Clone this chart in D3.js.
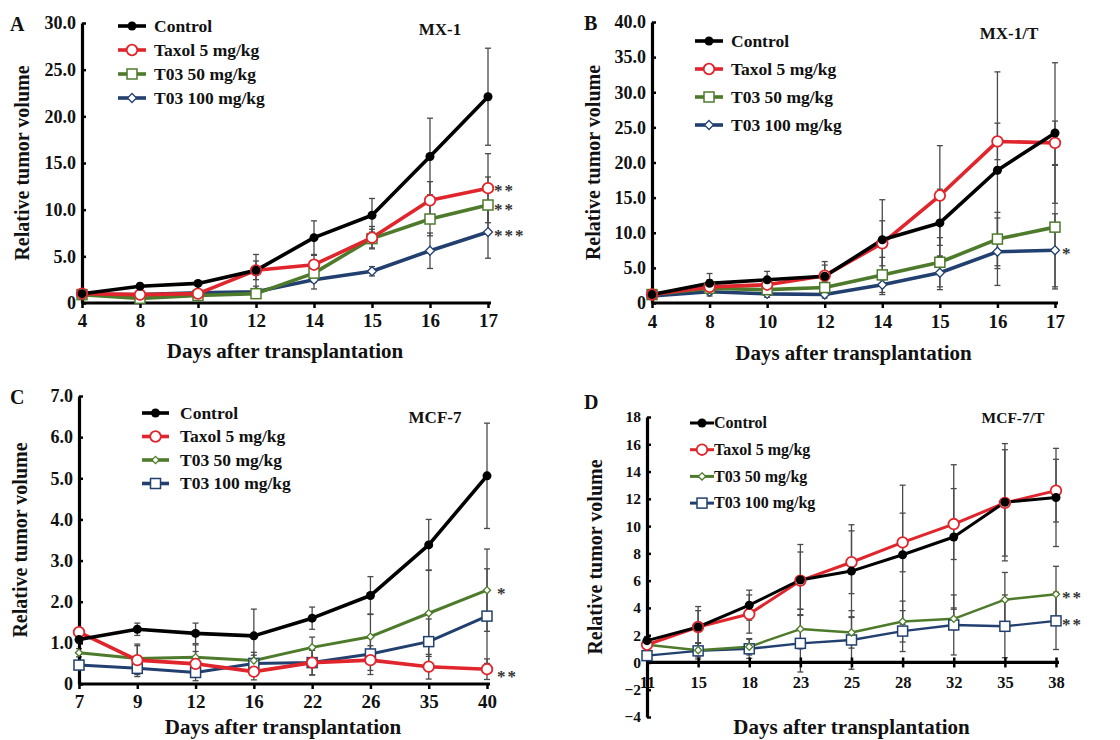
<!DOCTYPE html>
<html>
<head>
<meta charset="utf-8">
<script src="https://cdnjs.cloudflare.com/ajax/libs/d3/7.8.5/d3.min.js"></script>
<style>
  body { margin: 0; background: #fff; }
  svg { display: block; }
  text { font-family: "Liberation Serif", "Times New Roman", serif; font-weight: bold; }
</style>
</head>
<body>
<script>
// series names used in every panel
var seriesNames = ["Control", "Taxol 5 mg/kg", "T03 50 mg/kg", "T03 100 mg/kg"];

// panel A - MX-1
var daysA = ["4", "8", "10", "12", "14", "15", "16", "17"];
var controlA = [1.0, 1.8, 2.1, 3.5, 7.0, 9.4, 15.7, 22.1];
var taxolA = [1.0, 0.9, 1.0, 3.5, 4.1, 7.0, 11.0, 12.3];
var t50A = [0.9, 0.5, 0.8, 1.0, 3.2, 6.9, 9.0, 10.5];
var t100A = [0.9, 0.9, 1.1, 1.2, 2.5, 3.4, 5.6, 7.6];
var controlErrA = [0.1, 0.3, 0.3, 1.7, 1.8, 1.8, 4.1, 5.2];
var taxolErrA = [0.1, 0.2, 0.3, 1.0, 1.0, 1.2, 2.0, 3.7];
var t50ErrA = [0.1, 0.2, 0.2, 0.5, 1.0, 1.0, 1.8, 3.0];
var t100ErrA = [0.1, 0.2, 0.2, 0.3, 1.0, 0.5, 1.9, 2.8];

// panel B - MX-1/T
var daysB = ["4", "8", "10", "12", "14", "15", "16", "17"];
var controlB = [1.2, 2.8, 3.3, 3.8, 9.0, 11.4, 18.9, 24.2];
var taxolB = [1.2, 2.3, 2.6, 3.9, 8.5, 15.3, 23.0, 22.8];
var t50B = [1.2, 2.1, 1.9, 2.2, 4.0, 5.8, 9.1, 10.8];
var t100B = [1.0, 1.6, 1.3, 1.2, 2.6, 4.3, 7.3, 7.5];
var controlErrB = [0.2, 1.4, 1.2, 2.1, 5.7, 4.8, 14.0, 10.0];
var taxolErrB = [0.2, 1.0, 1.0, 1.5, 3.2, 7.1, 2.6, 3.1];
var t50ErrB = [0.2, 0.8, 0.7, 0.8, 2.5, 3.5, 3.8, 8.8];
var t100ErrB = [0.2, 0.6, 0.5, 0.5, 1.4, 2.4, 4.8, 5.2];

// panel C - MCF-7
var daysC = ["7", "9", "12", "16", "22", "26", "35", "40"];
var controlC = [1.08, 1.33, 1.23, 1.17, 1.6, 2.15, 3.38, 5.06];
var taxolC = [1.26, 0.58, 0.49, 0.3, 0.52, 0.58, 0.42, 0.36];
var t50C = [0.76, 0.62, 0.65, 0.57, 0.89, 1.15, 1.72, 2.28];
var t100C = [0.46, 0.38, 0.28, 0.5, 0.52, 0.73, 1.03, 1.65];
var controlErrC = [0.08, 0.15, 0.25, 0.65, 0.27, 0.46, 0.62, 1.28];
var taxolErrC = [0.1, 0.35, 0.3, 0.2, 0.3, 0.35, 0.3, 0.25];
var t50ErrC = [0.1, 0.35, 0.3, 0.2, 0.25, 0.55, 1.05, 1.0];
var t100ErrC = [0.1, 0.2, 0.2, 0.2, 0.3, 0.4, 0.55, 1.15];

// panel D - MCF-7/T
var daysD = ["11", "15", "18", "23", "25", "28", "32", "35", "38"];
var controlD = [1.6, 2.6, 4.2, 6.05, 6.7, 7.9, 9.2, 11.75, 12.1];
var taxolD = [1.3, 2.6, 3.55, 6.0, 7.35, 8.8, 10.15, 11.7, 12.6];
var t50D = [1.3, 0.9, 1.15, 2.45, 2.2, 3.0, 3.2, 4.6, 5.0];
var t100D = [0.5, 0.85, 1.0, 1.4, 1.65, 2.3, 2.75, 2.65, 3.05];
var controlErrD = [0.3, 1.5, 1.1, 2.6, 3.4, 5.1, 5.3, 4.3, 3.6];
var taxolErrD = [0.3, 1.2, 1.4, 2.1, 2.3, 2.15, 2.6, 3.9, 2.3];
var t50ErrD = [0.2, 0.5, 0.6, 1.45, 1.15, 1.5, 0.8, 2.0, 2.05];
var t100ErrD = [0.2, 0.6, 0.7, 2.1, 2.15, 1.5, 2.2, 2.3, 2.1];

var colors = ["#000000", "#e0252c", "#4e7b2b", "#22406f"];

var panels = [
  { letter: "A", label: "MX-1", days: daysA,
    values: [controlA, taxolA, t50A, t100A], errs: [controlErrA, taxolErrA, t50ErrA, t100ErrA],
    shapes: ["dot", "circle", "square", "diamond"],
    yDomain: [0, 30], yTicks: [0, 5, 10, 15, 20, 25, 30], fmt: function(d){ return d === 0 ? "0" : d.toFixed(1); },
    left: 82, right: 488, top: 23, bottom: 303, axisY: 303,
    tickFont: 18, tickBase: 327, titleY: 358, yTitleX: 22,
    legX: 118, legLen: 28, legGap: 8, legY: 26, legStep: 24, legFont: 17.5,
    labelX: 440, labelY: 35, stars: [["**", 1, -1], ["**", 2, 1], ["***", 3, 0]], starX: 494 },
  { letter: "B", label: "MX-1/T", days: daysB,
    values: [controlB, taxolB, t50B, t100B], errs: [controlErrB, taxolErrB, t50ErrB, t100ErrB],
    shapes: ["dot", "circle", "square", "diamond"],
    yDomain: [0, 40], yTicks: [0, 5, 10, 15, 20, 25, 30, 35, 40], fmt: function(d){ return d === 0 ? "0" : d.toFixed(1); },
    left: 652, right: 1055, top: 22, bottom: 303, axisY: 303,
    tickFont: 18, tickBase: 328, titleY: 360, yTitleX: 593,
    legX: 695, legLen: 28, legGap: 8, legY: 41, legStep: 28, legFont: 17.5,
    labelX: 1009, labelY: 39, stars: [["*", 3, 0]], starX: 1062 },
  { letter: "C", label: "MCF-7", days: daysC,
    values: [controlC, taxolC, t50C, t100C], errs: [controlErrC, taxolErrC, t50ErrC, t100ErrC],
    shapes: ["dot", "circle", "diamond", "square"],
    yDomain: [0, 7], yTicks: [0, 1, 2, 3, 4, 5, 6, 7], fmt: function(d){ return d === 0 ? "0" : d.toFixed(1); },
    left: 79, right: 487, top: 396, bottom: 684, axisY: 684,
    tickFont: 18, tickBase: 708, titleY: 734, yTitleX: 20,
    legX: 142, legLen: 27, legGap: 11, legY: 413, legStep: 23.5, legFont: 17.5,
    labelX: 435, labelY: 423, stars: [["*", 2, 0], ["**", 1, 4]], starX: 497 },
  { letter: "D", label: "MCF-7/T", days: daysD,
    values: [controlD, taxolD, t50D, t100D], errs: [controlErrD, taxolErrD, t50ErrD, t100ErrD],
    shapes: ["dot", "circle", "diamond", "square"],
    yDomain: [-4, 18], yTicks: [-4, -2, 0, 2, 4, 6, 8, 10, 12, 14, 16, 18], fmt: d3.format("d"),
    left: 647, right: 1056, top: 417, bottom: 717, axisY: null,
    tickFont: 15.5, tickBase: 688, titleY: 734, yTitleX: 595,
    legX: 690, legLen: 24, legGap: 0, legY: 423, legStep: 26.7, legFont: 16,
    labelX: 1013, labelY: 423, stars: [["**", 2, 0], ["**", 3, 0]], starX: 1062 }
];

var svg = d3.select("body").append("svg").attr("width", 1120).attr("height", 740);

function drawMarker(g, shape, color, small) {
  if (shape === "dot") {
    g.append("circle").attr("r", 4.5).attr("fill", color);
  } else if (shape === "circle") {
    g.append("circle").attr("r", 5.3).attr("fill", "#fff").attr("stroke", color).attr("stroke-width", 1.8);
  } else if (shape === "square") {
    g.append("rect").attr("x", -5).attr("y", -5).attr("width", 10).attr("height", 10)
      .attr("fill", "#fff").attr("stroke", color).attr("stroke-width", 1.5);
  } else {
    var s = small ? 3.6 : 4.5;
    g.append("path").attr("d", "M0," + (-s) + "L" + s + ",0L0," + s + "L" + (-s) + ",0Z")
      .attr("fill", "#fff").attr("stroke", color).attr("stroke-width", 1.3);
  }
}

panels.forEach(function(p, pi) {
  var x = d3.scalePoint().domain(p.days).range([p.left, p.right]);
  var y = d3.scaleLinear().domain(p.yDomain).range([p.bottom, p.top]);
  var axisY = p.axisY === null ? y(0) : p.axisY;
  var lw = pi === 3 ? 3 : 3.6;

  var g = svg.append("g");

  // error bars (behind lines)
  var eg = g.append("g").attr("stroke", "#4a4a4a").attr("stroke-width", 1.3);
  p.values.forEach(function(vals, si) {
    vals.forEach(function(v, i) {
      var e = p.errs[si][i];
      var cx = x(p.days[i]);
      var y1 = y(v + e), y2 = Math.min(y(v - e), p.bottom);
      eg.append("line").attr("x1", cx).attr("x2", cx).attr("y1", y1).attr("y2", y2);
      eg.append("line").attr("x1", cx - 3).attr("x2", cx + 3).attr("y1", y1).attr("y2", y1);
      eg.append("line").attr("x1", cx - 3).attr("x2", cx + 3).attr("y1", y2).attr("y2", y2);
    });
  });

  // axes
  var yAxis = d3.axisLeft(y).tickValues(p.yTicks).tickFormat(p.fmt).tickSize(-4).tickSizeOuter(0).tickPadding(6);
  var ya = g.append("g").attr("transform", "translate(" + p.left + ",0)").call(yAxis);
  ya.select(".domain").attr("stroke-width", 3.2);
  ya.selectAll(".tick line").attr("stroke-width", 2.5);
  ya.selectAll(".tick text").attr("font-size", p.tickFont).attr("font-family", "Liberation Serif").attr("font-weight", "bold").attr("fill", "#111");

  var xAxis = d3.axisBottom(x).tickSize(5).tickSizeOuter(0).tickPadding(0);
  var xa = g.append("g").attr("transform", "translate(0," + axisY + ")").call(xAxis);
  xa.select(".domain").attr("stroke-width", 3.2).attr("d", "M" + p.left + ",0H" + (p.right + 3));
  xa.selectAll(".tick line").attr("stroke-width", 2.5).attr("y1", pi === 3 ? -5 : 0);
  xa.selectAll(".tick text").attr("font-size", p.tickFont + 1).attr("font-family", "Liberation Serif").attr("font-weight", "bold")
    .attr("fill", "#111").attr("dy", null).attr("y", p.tickBase - axisY);

  // lines
  var line = d3.line().x(function(d, i) { return x(p.days[i]); }).y(function(d) { return y(d); });
  var order = [3, 2, 1, 0];
  order.forEach(function(si) {
    g.append("path").datum(p.values[si]).attr("d", line).attr("fill", "none")
      .attr("stroke", colors[si]).attr("stroke-width", si >= 2 && pi >= 2 ? lw - 0.6 : lw).attr("stroke-linejoin", "round");
  });
  order.forEach(function(si) {
    p.values[si].forEach(function(v, i) {
      var m = g.append("g").attr("transform", "translate(" + x(p.days[i]) + "," + y(v) + ")");
      drawMarker(m, p.shapes[si], colors[si], pi >= 2);
    });
  });

  // legend
  seriesNames.forEach(function(name, si) {
    var ly = p.legY + si * p.legStep;
    g.append("line").attr("x1", p.legX).attr("x2", p.legX + p.legLen).attr("y1", ly).attr("y2", ly)
      .attr("stroke", colors[si]).attr("stroke-width", lw);
    var m = g.append("g").attr("transform", "translate(" + (p.legX + p.legLen / 2) + "," + ly + ")");
    drawMarker(m, p.shapes[si], colors[si], pi >= 2);
    g.append("text").attr("x", p.legX + p.legLen + p.legGap).attr("y", ly + p.legFont * 0.33)
      .attr("font-size", p.legFont).attr("fill", "#111").text(name);
  });

  // significance stars
  p.stars.forEach(function(s) {
    var last = p.values[s[1]][p.values[s[1]].length - 1];
    g.append("text").attr("x", p.starX).attr("y", y(last) + 9 + s[2]).attr("font-size", 17)
      .attr("font-weight", "normal").attr("fill", "#333").attr("letter-spacing", 2).text(s[0]);
  });

  // panel letter, cell label, axis titles
  g.append("text").attr("x", pi % 2 === 0 ? 10 : 584).attr("y", p.top + (pi === 3 ? -8 : 8))
    .attr("font-size", 20).attr("fill", "#111").text(p.letter);
  g.append("text").attr("x", p.labelX).attr("y", p.labelY).attr("text-anchor", "middle")
    .attr("font-size", pi === 3 ? 15.5 : 17).attr("fill", "#111").text(p.label);
  g.append("text").attr("x", (p.left + p.right) / 2).attr("y", p.titleY).attr("text-anchor", "middle")
    .attr("font-size", 21).attr("fill", "#111").text("Days after transplantation");
  g.append("text").attr("transform", "translate(" + p.yTitleX + "," + ((p.top + p.bottom) / 2 + (pi === 3 ? -10 : 0)) + ") rotate(-90)")
    .attr("dy", "0.35em").attr("text-anchor", "middle").attr("font-size", 20).attr("fill", "#111").text("Relative tumor volume");
});
</script>
</body>
</html>
